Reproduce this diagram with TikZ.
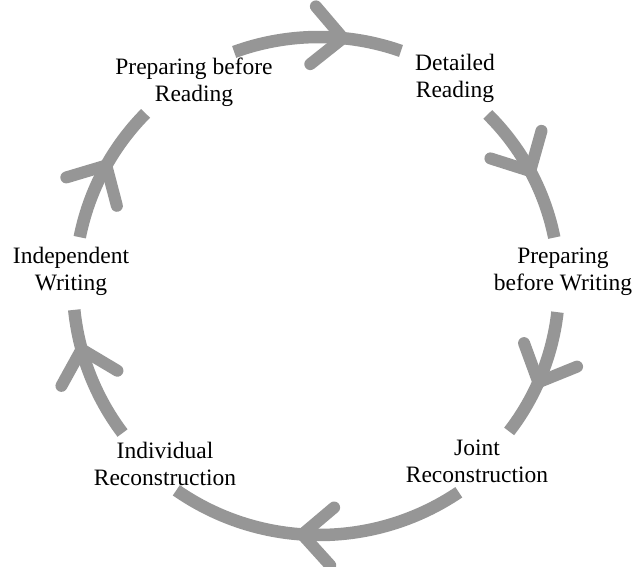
\documentclass[tikz,border=0pt]{standalone}
\usepackage{fontspec}
\setmainfont{Liberation Serif}
\usetikzlibrary{calc,decorations.markings}
\definecolor{cycgray}{RGB}{150,150,150}
\tikzset{
  cyc/.style={draw=cycgray, line width=12.5pt, line cap=butt},
  barbline/.style={draw=cycgray, line width=12pt, line cap=round, line join=round},
  arrowat/.style={postaction={decorate}, decoration={markings,
      mark=at position #1 with {\draw[barbline] (-30,29) -- (0,0) -- (-30,-29);}}},
  lbl/.style={font=\fontsize{23.5}{27}\selectfont, align=center, inner sep=0pt, anchor=base}
}
\begin{document}
\begin{tikzpicture}[x=1pt,y=1pt]
\useasboundingbox (0,0) rectangle (636,566);
\coordinate (c) at (319,281);
% labels (anchor = baseline of the last line)
\node[lbl] (prepR) at (194,464) {Preparing before\\Reading};
\node[lbl] (detR) at (455,468) {Detailed\\Reading};
\node[lbl] (prepW) at (563,276) {Preparing\\before Writing};
\node[lbl] (joint) at (477,84) {Joint\\Reconstruction};
\node[lbl] (indR) at (165,81) {Individual\\Reconstruction};
\node[lbl] (indW) at (71,276) {Independent\\Writing};
% arc start points
\coordinate (s1) at ($(c)+(110:248)$);
\coordinate (s2) at ($(c)+(45.3:240)$);
\coordinate (s3) at ($(c)+(-6.5:240)$);
\coordinate (s4) at ($(c)+(-56:250)$);
\coordinate (s5) at ($(c)+(-143:246)$);
\coordinate (s6) at ($(c)+(168.7:244)$);
% arcs
\draw[cyc, arrowat=0.65] (s1) arc[start angle=110, end angle=70.7, radius=248];
\draw[cyc, arrowat=0.50] (s2) arc[start angle=45.3, end angle=11.4, radius=240];
\draw[cyc, arrowat=0.56] (s3) arc[start angle=-6.5, end angle=-37.6, radius=240];
\draw[cyc, arrowat=0.55] (s4) arc[start angle=-56, end angle=-124.8, radius=250];
\draw[cyc, arrowat=0.70] (s5) arc[start angle=-143, end angle=-174.2, radius=246];
\draw[cyc, arrowat=0.54] (s6) arc[start angle=168.7, end angle=135.3, radius=244];
\end{tikzpicture}
\end{document}
